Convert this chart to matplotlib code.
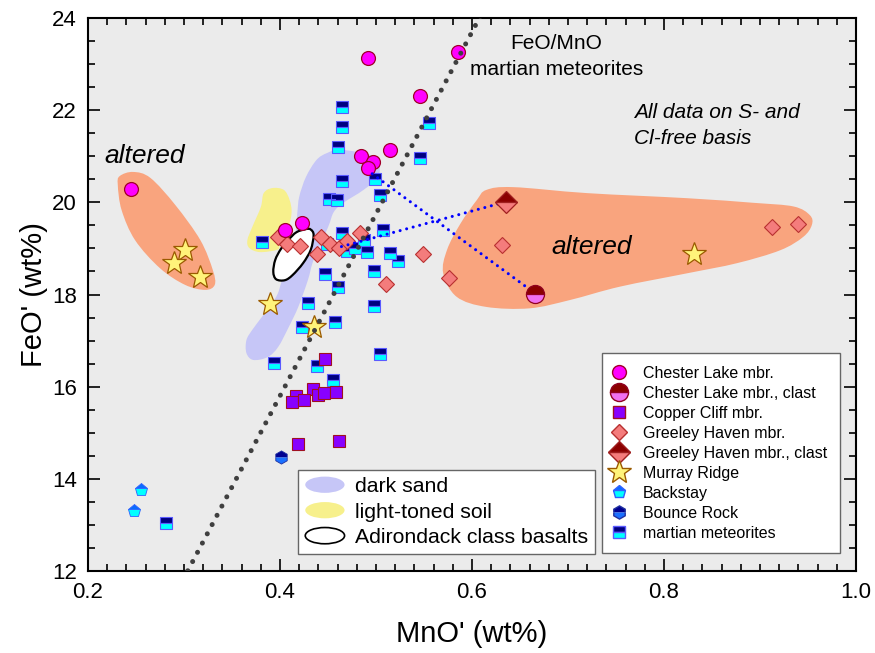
import numpy as np
import matplotlib.pyplot as plt
from matplotlib.path import Path
from matplotlib.patches import PathPatch, Ellipse, Patch
from matplotlib.lines import Line2D
from matplotlib.legend_handler import HandlerPatch

plt.rcParams['font.family'] = ['Liberation Sans', 'DejaVu Sans']

## data, MnO' / FeO' (wt%)
cl_mno = [0.245, 0.492, 0.585, 0.546, 0.515, 0.484, 0.497, 0.492, 0.423, 0.405]
cl_feo = [20.30, 23.13, 23.26, 22.31, 21.14, 21.00, 20.88, 20.74, 19.56, 19.40]
clc_mno = [0.666]
clc_feo = [18.02]
cc_mno = [0.447, 0.434, 0.440, 0.446, 0.458, 0.417, 0.412, 0.425, 0.419, 0.461]
cc_feo = [16.59, 15.96, 15.82, 15.87, 15.88, 15.80, 15.67, 15.72, 14.75, 14.83]
gh_mno = [0.398, 0.407, 0.421, 0.438, 0.443, 0.452, 0.461, 0.470, 0.483, 0.510,
          0.549, 0.576, 0.631, 0.912, 0.940]
gh_feo = [19.25, 19.10, 19.05, 18.87, 19.25, 19.10, 19.00, 19.17, 19.33, 18.22,
          18.88, 18.35, 19.07, 19.47, 19.53]
ghc_mno = [0.635]
ghc_feo = [20.01]
mr_mno = [0.301, 0.290, 0.317, 0.390, 0.435, 0.831]
mr_feo = [18.97, 18.68, 18.39, 17.79, 17.29, 18.88]
bs_mno = [0.255, 0.248]
bs_feo = [13.76, 13.30]
br_mno = [0.401]
br_feo = [14.48]
mm_mno = [0.281, 0.465, 0.465, 0.460, 0.465, 0.451, 0.459, 0.555, 0.546, 0.499,
          0.504, 0.381, 0.465, 0.449, 0.470, 0.478, 0.487, 0.491, 0.507, 0.515,
          0.523, 0.498, 0.447, 0.460, 0.498, 0.429, 0.423, 0.457, 0.394, 0.439,
          0.455, 0.504]
mm_feo = [13.05, 22.06, 21.64, 21.21, 20.47, 20.08, 20.06, 21.73, 20.97, 20.51,
          20.17, 19.15, 19.33, 19.10, 18.95, 19.01, 19.19, 18.93, 19.40, 18.89,
          18.73, 18.52, 18.44, 18.17, 17.75, 17.81, 17.30, 17.41, 16.52, 16.44,
          16.15, 16.70]

# tie lines host -> clast
tie_cl_mno = [0.496, 0.666]
tie_cl_feo = [20.62, 18.02]
tie_gh_mno = [0.464, 0.635]
tie_gh_feo = [19.04, 20.01]

# FeO/MnO of martian meteorites
feo_mno_ratio = 39.5

## outlined fields
alt_l_x = [0.233, 0.247, 0.265, 0.291, 0.317, 0.330, 0.332, 0.322, 0.301, 0.275, 0.249, 0.235, 0.231]
alt_l_y = [20.57, 20.66, 20.53, 19.94, 19.18, 18.53, 18.21, 18.10, 18.21, 18.57, 19.18, 19.83, 20.38]
alt_r_x = [0.615, 0.643, 0.720, 0.824, 0.893, 0.935, 0.952, 0.954, 0.945, 0.921, 0.876,
           0.824, 0.754, 0.702, 0.660, 0.615, 0.584, 0.570, 0.574, 0.588, 0.605]
alt_r_y = [20.27, 20.33, 20.20, 20.09, 19.99, 19.91, 19.72, 19.51, 19.25, 18.96, 18.68,
           18.46, 18.17, 17.88, 17.70, 17.73, 17.95, 18.46, 18.97, 19.54, 20.05]
sand_x = [0.449, 0.463, 0.494, 0.503, 0.502, 0.487, 0.466, 0.456, 0.450, 0.435, 0.429,
          0.419, 0.409, 0.398, 0.387, 0.372, 0.365, 0.365, 0.371, 0.381, 0.396, 0.402,
          0.415, 0.418, 0.420, 0.427, 0.438]
sand_y = [21.07, 21.14, 21.03, 20.85, 20.55, 20.27, 19.99, 19.79, 19.46, 18.75, 18.31,
          17.73, 17.29, 16.86, 16.64, 16.58, 16.73, 17.01, 17.23, 17.51, 17.95, 18.31,
          19.18, 19.77, 20.12, 20.55, 20.92]
soil_x = [0.392, 0.404, 0.410, 0.412, 0.408, 0.400, 0.397, 0.379, 0.368, 0.366, 0.371, 0.380, 0.383]
soil_y = [20.31, 20.27, 20.05, 19.77, 19.40, 19.07, 18.97, 18.92, 19.01, 19.18, 19.46, 19.90, 20.20]
adk_x = [0.432, 0.435, 0.432, 0.424, 0.413, 0.405, 0.396, 0.393, 0.395, 0.401, 0.409, 0.417, 0.427]
adk_y = [19.41, 19.29, 18.97, 18.68, 18.42, 18.31, 18.33, 18.49, 18.75, 18.99, 19.19, 19.35, 19.42]


def blob(xs, ys):
    # closed smooth outline through the given vertices (Catmull-Rom as Bezier)
    p = np.column_stack([xs, ys])
    n = len(p)
    verts = [p[0]]
    codes = [Path.MOVETO]
    for i in range(n):
        p0, p1, p2, p3 = p[i - 1], p[i], p[(i + 1) % n], p[(i + 2) % n]
        verts += [p1 + (p2 - p0) / 6, p2 - (p3 - p1) / 6, p2]
        codes += [Path.CURVE4] * 3
    return Path(verts, codes)


def legend_ellipse(legend, orig_handle, xdescent, ydescent, width, height, fontsize):
    return Ellipse((width / 2 - xdescent, height / 2 - ydescent), width, height)


fig = plt.figure(figsize=(8.75, 6.53), dpi=100, facecolor='white')
ax = fig.add_axes([0.1006, 0.1256, 0.8777, 0.8468])
ax.set_facecolor('#ebebeb')

orange = '#f9a47e'
ax.add_patch(PathPatch(blob(alt_l_x, alt_l_y), facecolor=orange, edgecolor='none', zorder=1))
ax.add_patch(PathPatch(blob(alt_r_x, alt_r_y), facecolor=orange, edgecolor='none', zorder=1))
ax.add_patch(PathPatch(blob(sand_x, sand_y), facecolor='#c6c6f7', edgecolor='none', zorder=1))
ax.add_patch(PathPatch(blob(soil_x, soil_y), facecolor='#f7f08c', edgecolor='none', zorder=1))
ax.add_patch(PathPatch(blob(adk_x, adk_y), facecolor='white', edgecolor='black', lw=1.6, zorder=2))

ax.text(0.2585, 21.0, 'altered', style='italic', fontsize=19, ha='center', va='center', zorder=3)
ax.text(0.725, 19.04, 'altered', style='italic', fontsize=19, ha='center', va='center', zorder=3)
ax.text(0.688, 23.17, 'FeO/MnO\nmartian meteorites', fontsize=15, ha='center', va='center',
        linespacing=1.45, zorder=3)
ax.text(0.769, 21.66, 'All data on S- and\nCl-free basis', style='italic', fontsize=15,
        ha='left', va='center', linespacing=1.45, zorder=3)

# markers
ax.plot(mm_mno, mm_feo, 's', ms=8, mfc='#000080', mfcalt='#00ffff', fillstyle='top',
        mec='#5a5aff', mew=0.8, zorder=4)
ax.plot(cc_mno, cc_feo, 's', ms=8.6, mfc='#8800ff', mec='#a01020', mew=0.8, zorder=4)
ax.plot(gh_mno, gh_feo, 'D', ms=8.5, mfc='#f47c7c', mec='#b83030', mew=0.8, zorder=4)
ax.plot(cl_mno, cl_feo, 'o', ms=10, mfc='#ff00ff', mec='#a00028', mew=0.9, zorder=4)
ax.plot(mr_mno, mr_feo, '*', ms=18, mfc='#fff37a', mec='#9a5a00', mew=0.9, zorder=4)
ax.plot(bs_mno, bs_feo, 'p', ms=9.5, mfc='#0a6cff', mfcalt='#00ffff', fillstyle='top',
        mec='#3060ff', mew=0.6, zorder=4)
ax.plot(br_mno, br_feo, 'h', ms=9.5, mfc='#000090', mfcalt='#1a70ff', fillstyle='top',
        mec='#2030a0', mew=0.6, zorder=4)

ax.plot(tie_cl_mno, tie_cl_feo, color='#0000ff', lw=2.2, ls=(0, (0.01, 2.2)),
        dash_capstyle='round', zorder=5)
ax.plot(tie_gh_mno, tie_gh_feo, color='#0000ff', lw=2.2, ls=(0, (0.01, 2.2)),
        dash_capstyle='round', zorder=5)
ax.plot(clc_mno, clc_feo, 'o', ms=13, mfc='#8b0000', mfcalt='#f070f0', fillstyle='top',
        mec='#900020', mew=0.9, zorder=6)
ax.plot(ghc_mno, ghc_feo, 'D', ms=11.5, mfc='#8b0000', mfcalt='#f47c7c', fillstyle='top',
        mec='#a02020', mew=0.9, zorder=6)

# FeO/MnO line
mx = np.array([0.2, 1.0])
ax.plot(mx, feo_mno_ratio * mx, color='#3f3f3f', lw=3.6, ls=(0, (0.01, 2.08)),
        dash_capstyle='round', zorder=7)

ax.set_xlim(0.2, 1.0)
ax.set_ylim(12, 24)
ax.set_xticks(np.arange(0.2, 1.01, 0.2))
ax.set_xticks(np.arange(0.2, 1.001, 0.02), minor=True)
ax.set_yticks(np.arange(12, 24.1, 2))
ax.set_yticks(np.arange(12, 24.1, 0.5), minor=True)
ax.set_xticklabels(['0.2', '0.4', '0.6', '0.8', '1.0'])
ax.tick_params(which='both', direction='in', top=True, right=True, labelsize=16, width=1.2)
ax.tick_params(which='major', length=8.5, pad=8)
ax.tick_params(which='minor', length=5)
for s in ax.spines.values():
    s.set_linewidth(1.5)
ax.set_xlabel("MnO' (wt%)", fontsize=21, labelpad=12)
ax.set_ylabel("FeO' (wt%)", fontsize=21, labelpad=3)

# legend of the fields
field_handles = [Patch(facecolor='#c6c6f7', edgecolor='none'),
                 Patch(facecolor='#f7f08c', edgecolor='none'),
                 Patch(facecolor='white', edgecolor='black', lw=1.2)]
leg1 = ax.legend(field_handles, ['dark sand', 'light-toned soil', 'Adirondack class basalts'],
                 loc='lower left', bbox_to_anchor=(0.274, 0.031), borderaxespad=0,
                 fontsize=15.3, handlelength=1.85, handleheight=0.8, handletextpad=0.5,
                 labelspacing=0.28, borderpad=0.32, fancybox=False, framealpha=1,
                 edgecolor='#666666', handler_map={Patch: HandlerPatch(patch_func=legend_ellipse)})
leg1.get_frame().set_linewidth(1.0)
leg1.set_zorder(10)
ax.add_artist(leg1)

# legend of the samples
sample_handles = [
    Line2D([], [], ls='none', marker='o', ms=10, mfc='#ff00ff', mec='#a00028'),
    Line2D([], [], ls='none', marker='o', ms=13, mfc='#8b0000', mfcalt='#f070f0', fillstyle='top', mec='#900020'),
    Line2D([], [], ls='none', marker='s', ms=8.6, mfc='#8800ff', mec='#a01020'),
    Line2D([], [], ls='none', marker='D', ms=8.5, mfc='#f47c7c', mec='#b83030'),
    Line2D([], [], ls='none', marker='D', ms=11.5, mfc='#8b0000', mfcalt='#f47c7c', fillstyle='top', mec='#a02020'),
    Line2D([], [], ls='none', marker='*', ms=18, mfc='#fff37a', mec='#9a5a00'),
    Line2D([], [], ls='none', marker='p', ms=9.5, mfc='#0a6cff', mfcalt='#00ffff', fillstyle='top', mec='#3060ff'),
    Line2D([], [], ls='none', marker='h', ms=9.5, mfc='#000090', mfcalt='#1a70ff', fillstyle='top', mec='#2030a0'),
    Line2D([], [], ls='none', marker='s', ms=8, mfc='#000080', mfcalt='#00ffff', fillstyle='top', mec='#5a5aff'),
]
sample_labels = ['Chester Lake mbr.', 'Chester Lake mbr., clast', 'Copper Cliff mbr.',
                 'Greeley Haven mbr.', 'Greeley Haven mbr., clast', 'Murray Ridge',
                 'Backstay', 'Bounce Rock', 'martian meteorites']
leg2 = ax.legend(sample_handles, sample_labels, loc='lower left', bbox_to_anchor=(0.669, 0.032),
                 borderaxespad=0, fontsize=11.5, handlelength=0.6, handletextpad=1.16,
                 labelspacing=0.31, borderpad=0.8, fancybox=False, framealpha=1,
                 edgecolor='#666666')
leg2.get_frame().set_linewidth(1.0)
leg2.set_zorder(10)

fig.savefig('out.png', dpi=100, facecolor='white')
